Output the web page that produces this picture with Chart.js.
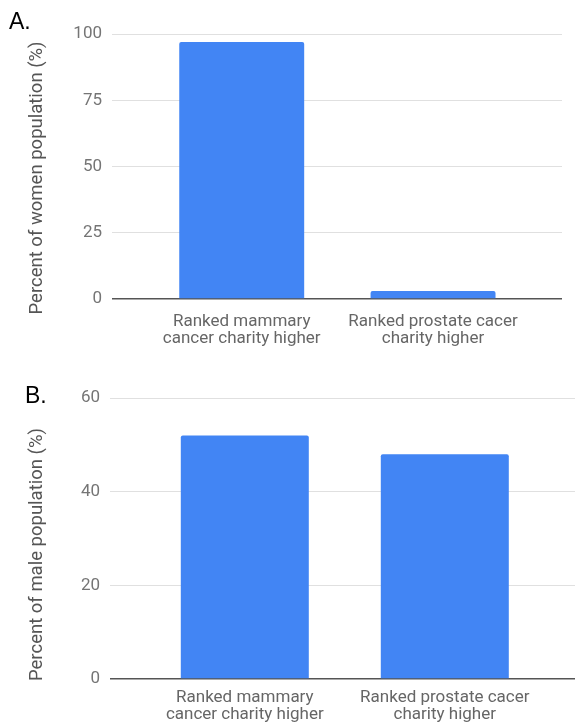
<!DOCTYPE html>
<html>
<head>
<meta charset="utf-8">
<script src="https://cdn.jsdelivr.net/npm/chart.js@4"></script>
<style>
    body { margin: 0; background: #fff; }
    #wrap { position: relative; width: 575px; height: 725px; }
    .panel { position: absolute; left: 0; width: 575px; }
    .tag { position: absolute; font-family: "Liberation Sans", Arial, sans-serif; font-size: 23px; line-height: 1; color: #000; }
</style>
</head>
<body>
<div id="wrap">
    <div class="panel" style="top:0;height:360px"><canvas id="women"></canvas></div>
    <div class="panel" style="top:360px;height:365px"><canvas id="male"></canvas></div>
    <div class="tag" style="left:9px;top:10px">A.</div>
    <div class="tag" style="left:25px;top:384px">B.</div>
</div>
<script>
const categories = [
    ['Ranked mammary', 'cancer charity higher'],
    ['Ranked prostate cacer', 'charity higher']
];
const womenValues = [97, 3];
const maleValues = [52, 48];
const womenTitle = 'Percent of women population (%)';
const maleTitle = 'Percent of male population (%)';

const barColor = '#4285f4';

function makeChart(id, values, yTitle, o) {
    const data = categories.map((c, i) => ({ x: i + 1, y: values[i] }));
    return new Chart(document.getElementById(id), {
        type: 'bar',
        data: {
            datasets: [{
                data: data,
                backgroundColor: barColor,
                borderRadius: 2,
                borderSkipped: 'start',
                barPercentage: o.barPct,
                categoryPercentage: 1
            }]
        },
        options: {
            responsive: false,
            animation: false,
            layout: { padding: { top: o.padTop, right: o.padRight, left: 0, bottom: 0 } },
            plugins: { legend: { display: false }, tooltip: { enabled: false } },
            scales: {
                x: {
                    type: 'linear',
                    offset: false,
                    min: o.xMin,
                    max: o.xMax,
                    grid: { display: false },
                    border: { display: false },
                    afterBuildTicks: s => { s.ticks = categories.map((c, i) => ({ value: i + 1 })); },
                    afterFit: s => { s.height = o.xHeight; },
                    ticks: {
                        callback: v => categories[v - 1],
                        color: '#666',
                        padding: o.xPad,
                        maxRotation: 0,
                        autoSkip: false,
                        font: { family: 'Roboto', size: 17, lineHeight: 1 }
                    }
                },
                y: {
                    min: 0,
                    max: o.yMax,
                    grid: {
                        color: c => c.tick.value === 0 ? '#555' : '#e0e0e0',
                        lineWidth: c => c.tick.value === 0 ? 1.5 : 1,
                        drawTicks: false
                    },
                    border: { display: false },
                    afterFit: s => { s.width = o.yWidth; },
                    ticks: {
                        stepSize: o.step,
                        color: '#757575',
                        padding: 10,
                        font: { family: 'Roboto', size: 17 }
                    },
                    title: {
                        display: true,
                        // trailing spaces nudge the rotated title down like the original
                        text: yTitle + '\u00a0'.repeat(o.titleShift),
                        color: '#555',
                        padding: { top: 26, bottom: 0 },
                        font: { family: 'Roboto', size: 18.5, lineHeight: 1.2 }
                    }
                }
            }
        }
    });
}

function setSize(id, w, h) {
    const c = document.getElementById(id);
    c.width = w; c.height = h;
    c.style.width = w + 'px'; c.style.height = h + 'px';
}

setSize('women', 575, 360);
setSize('male', 575, 365);

makeChart('women', womenValues, womenTitle, {
    padTop: 34, padRight: 13, xHeight: 61, xPad: 6, yWidth: 112,
    yMax: 100, step: 25, xMin: 0.322, xMax: 2.674, barPct: 0.653, titleShift: 5
});
makeChart('male', maleValues, maleTitle, {
    padTop: 38, padRight: 0, xHeight: 46, xPad: 2, yWidth: 110,
    yMax: 60, step: 20, xMin: 0.326, xMax: 2.651, barPct: 0.64, titleShift: 7
});
</script>
</body>
</html>
